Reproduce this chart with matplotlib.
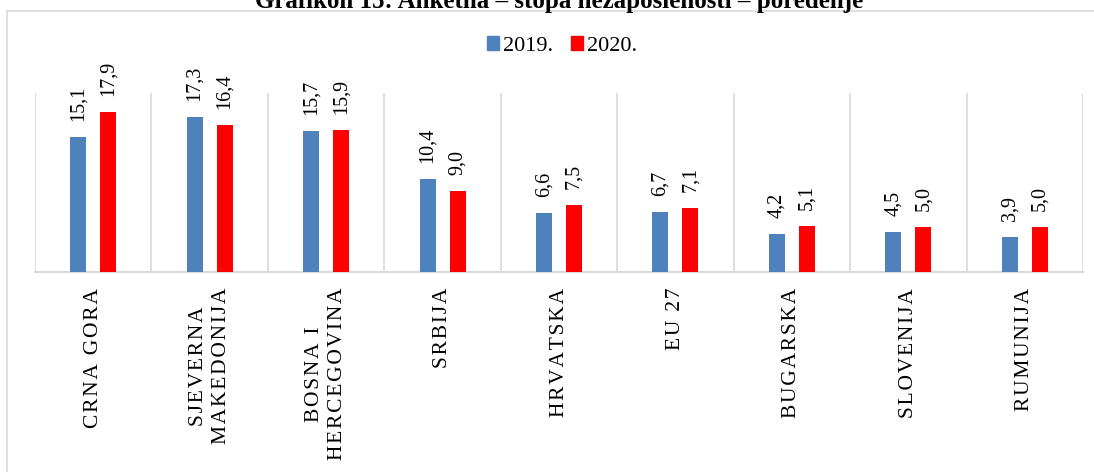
import matplotlib
matplotlib.use("Agg")
import matplotlib.pyplot as plt
import numpy as np
from matplotlib.patches import Patch
from matplotlib.lines import Line2D

plt.rcParams['font.family'] = ['Liberation Serif', 'DejaVu Serif']

categories = ["CRNA GORA", "SJEVERNA\nMAKEDONIJA", "BOSNA I\nHERCEGOVINA", "SRBIJA",
              "HRVATSKA", "EU 27", "BUGARSKA", "SLOVENIJA", "RUMUNIJA"]
v2019 = [15.1, 17.3, 15.7, 10.4, 6.6, 6.7, 4.2, 4.5, 3.9]
v2020 = [17.9, 16.4, 15.9, 9.0, 7.5, 7.1, 5.1, 5.0, 5.0]
series_names = ["2019.", "2020."]
title = "Grafikon 15: Anketna – stopa nezaposlenosti – poređenje"

C_BLUE = "#4F81BD"
C_RED = "#FF0000"
GRID = "#D9D9D9"

W, H = 1094, 472
fig = plt.figure(figsize=(W / 100, H / 100), dpi=100)

def px(x0, y0, x1, y1):
    return [x0 / W, 1 - y1 / H, (x1 - x0) / W, (y1 - y0) / H]

ax = fig.add_axes(px(35, 93, 1083, 272))

x = np.arange(len(categories))
bw = 0.1375
off = 0.129
b1 = ax.bar(x - off, v2019, bw, color=C_BLUE, zorder=3)
b2 = ax.bar(x + off, v2020, bw, color=C_RED, zorder=3)

def fmt(v):
    return f"{v:.1f}".replace(".", ",")

for bars, vals in ((b1, v2019), (b2, v2020)):
    for r, v in zip(bars, vals):
        ax.annotate(fmt(v), (r.get_x() + r.get_width() / 2, v),
                    xytext=(0, 16), textcoords='offset pixels',
                    rotation=90, ha='center', va='bottom', fontsize=14.5,
                    color='black', zorder=4)

ax.set_xlim(-0.5, len(categories) - 0.5)
ax.set_ylim(0, 20)
ax.set_yticks([])

def spaced(s):
    return "\n".join("\u200a".join(list(line)) for line in s.split("\n"))

ax.set_xticks(x)
ax.set_xticklabels([spaced(c) for c in categories], rotation=90, va='top',
                   ha='center', multialignment='center', fontsize=15.5,
                   linespacing=1.3)
ax.tick_params(axis='x', length=0, pad=11.5)
ax.set_xticks(np.arange(-0.5, len(categories)), minor=True)
ax.tick_params(axis='x', which='minor', length=0)
ax.grid(which='minor', axis='x', color=GRID, linewidth=1.2, zorder=0)

for s in ('top', 'right', 'left'):
    ax.spines[s].set_visible(False)
ax.spines['bottom'].set_color(GRID)
ax.spines['bottom'].set_linewidth(1.5)

# outer chart frame
fig.add_artist(Line2D([7 / W, 1], [1 - 11 / H, 1 - 11 / H], color=GRID, linewidth=1.2))
fig.add_artist(Line2D([7 / W, 7 / W], [0, 1 - 11 / H], color=GRID, linewidth=1.2))

# title (partially cropped in the reference)
fig.text(559 / W, 1 - 8 / H, title, ha='center', va='baseline', fontsize=18,
         fontweight='bold')

handles = [Patch(color=C_BLUE, label=series_names[0]),
           Patch(color=C_RED, label=series_names[1])]
fig.legend(handles=handles, loc='center', bbox_to_anchor=(562 / W, 1 - 46 / H),
           ncol=2, frameon=False, fontsize=16, handlelength=0.55,
           handleheight=0.55, handletextpad=0.18, columnspacing=0.8,
           borderpad=0, borderaxespad=0)

fig.savefig("out.png", dpi=100)
